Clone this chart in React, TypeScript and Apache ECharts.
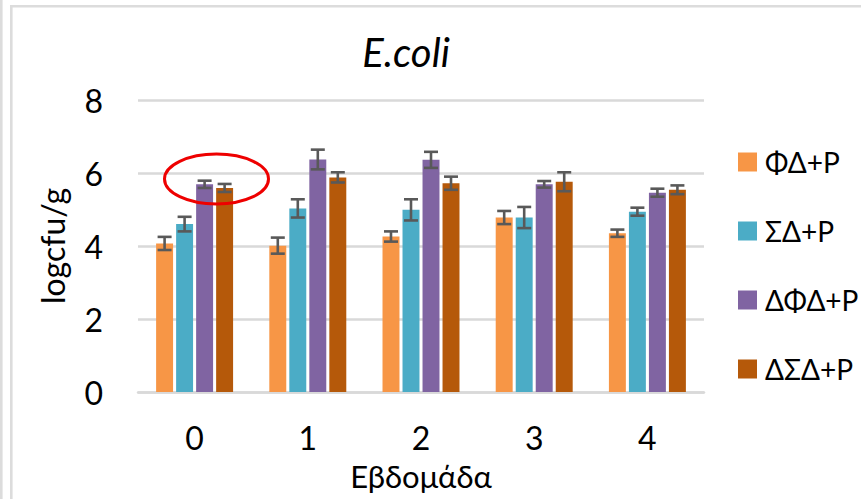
import React, { useEffect, useRef } from "react";
import * as echarts from "echarts";

const weeks = ["0", "1", "2", "3", "4"];
const seriesNames = ["ΦΔ+P", "ΣΔ+P", "ΔΦΔ+P", "ΔΣΔ+P"];
const fdP = [4.07, 4.01, 4.26, 4.78, 4.35];
const sdP = [4.6, 5.03, 4.99, 4.78, 4.94];
const dfdP = [5.69, 6.37, 6.36, 5.69, 5.46];
const dsdP = [5.59, 5.88, 5.72, 5.76, 5.54];
const fdE = [0.18, 0.22, 0.14, 0.18, 0.1];
const sdE = [0.2, 0.25, 0.29, 0.29, 0.11];
const dfdE = [0.1, 0.27, 0.22, 0.09, 0.11];
const dsdE = [0.11, 0.14, 0.18, 0.26, 0.12];
const yTicks = { min: 0, max: 8, interval: 2 };

const colors = ["#F79646", "#4BACC6", "#8064A2", "#B5590A"];
const FONT = "Lato, 'Noto Sans', sans-serif";
const CAT_GAP = 0.32;
const BAR_GAP = 0.18;

export default function App() {
  const ref = useRef<HTMLDivElement>(null);
  useEffect(() => {
    if (!ref.current) return;
    const chart = echarts.init(ref.current, null, { renderer: "svg" });
    const values = [fdP, sdP, dfdP, dsdP];
    const errors = [fdE, sdE, dfdE, dsdE];
    const n = values.length;

    const barSeries = values.map((vals, i) => ({
      type: "bar",
      name: seriesNames[i],
      data: vals,
      barGap: `${BAR_GAP * 100}%`,
      barCategoryGap: `${CAT_GAP * 100}%`,
      itemStyle: { color: colors[i] },
      z: 2,
    }));

    const errSeries = values.map((vals, i) => ({
      type: "custom",
      name: "err" + i,
      z: 5,
      data: vals.map((v, k) => [k, v, errors[i][k]]),
      encode: { x: 0, y: 1 },
      renderItem: (params: any, api: any) => {
        const x = api.value(0);
        const v = api.value(1);
        const e = api.value(2);
        const band = api.size([1, 0])[0];
        const total = band * (1 - CAT_GAP);
        const bw = total / (n + (n - 1) * BAR_GAP);
        const gap = bw * BAR_GAP;
        const cx = api.coord([x, v])[0] - total / 2 + i * (bw + gap) + bw / 2;
        const yTop = api.coord([x, v + e])[1];
        const yBot = api.coord([x, v - e])[1];
        const cap = 7;
        const st = { stroke: "#595959", lineWidth: 2.6 };
        return {
          type: "group",
          children: [
            { type: "line", shape: { x1: cx, y1: yTop, x2: cx, y2: yBot }, style: st },
            { type: "line", shape: { x1: cx - cap, y1: yTop, x2: cx + cap, y2: yTop }, style: st },
            { type: "line", shape: { x1: cx - cap, y1: yBot, x2: cx + cap, y2: yBot }, style: st },
          ],
        };
      },
    }));

    chart.setOption({
      animation: false,
      backgroundColor: "#ffffff",
      title: {
        text: "E.coli",
        left: 401,
        top: 27,
        textAlign: "center",
        textStyle: { fontFamily: FONT, fontStyle: "italic", fontWeight: "normal", fontSize: 40, color: "#000" },
      },
      grid: { left: 138, right: 157, top: 100, bottom: 107, outerBoundsMode: "none", containLabel: false },
      legend: {
        data: seriesNames,
        orient: "vertical",
        left: 733,
        top: 143,
        itemWidth: 19,
        itemHeight: 19,
        itemGap: 41,
        icon: "rect",
        textStyle: { fontFamily: FONT, fontSize: 28, color: "#000", padding: [0, 0, 0, 3] },
      },
      xAxis: {
        type: "category",
        data: weeks,
        name: "Εβδομάδα",
        nameLocation: "middle",
        nameGap: 68,
        nameTextStyle: { fontFamily: FONT, fontSize: 31, color: "#000" },
        axisLine: { lineStyle: { color: "#d9d9d9", width: 2.5 } },
        axisTick: { show: false },
        axisLabel: { fontFamily: FONT, fontSize: 32, color: "#000", margin: 29 },
      },
      yAxis: {
        type: "value",
        min: yTicks.min,
        max: yTicks.max,
        interval: yTicks.interval,
        name: "logcfu/g",
        nameLocation: "middle",
        nameGap: 70,
        nameTextStyle: { fontFamily: FONT, fontSize: 32, color: "#000" },
        axisLine: { show: false },
        axisTick: { show: false },
        axisLabel: { fontFamily: FONT, fontSize: 32, color: "#000", margin: 35 },
        splitLine: { lineStyle: { color: "#d9d9d9", width: 2.5 } },
      },
      graphic: [
        {
          type: "rect",
          shape: { x: 11.3, y: 6.2, width: 900, height: 600 },
          style: { fill: "none", stroke: "#dcdcdc", lineWidth: 2.6 },
          silent: true,
          z: 100,
        },
        {
          type: "line",
          shape: { x1: 1.3, y1: 0, x2: 1.3, y2: 499 },
          style: { stroke: "#dcdcdc", lineWidth: 2.6 },
          silent: true,
          z: 100,
        },
        {
          type: "ellipse",
          shape: { cx: 216.5, cy: 179, rx: 52, ry: 25 },
          style: { fill: "none", stroke: "#ee0000", lineWidth: 3 },
          silent: true,
          z: 100,
        },
      ],
      series: [...barSeries, ...errSeries],
    });
    return () => chart.dispose();
  }, []);
  return (
    <div
      ref={ref}
      style={{ position: "fixed", left: 0, top: 0, width: 861, height: 499, background: "#fff" }}
    />
  );
}
